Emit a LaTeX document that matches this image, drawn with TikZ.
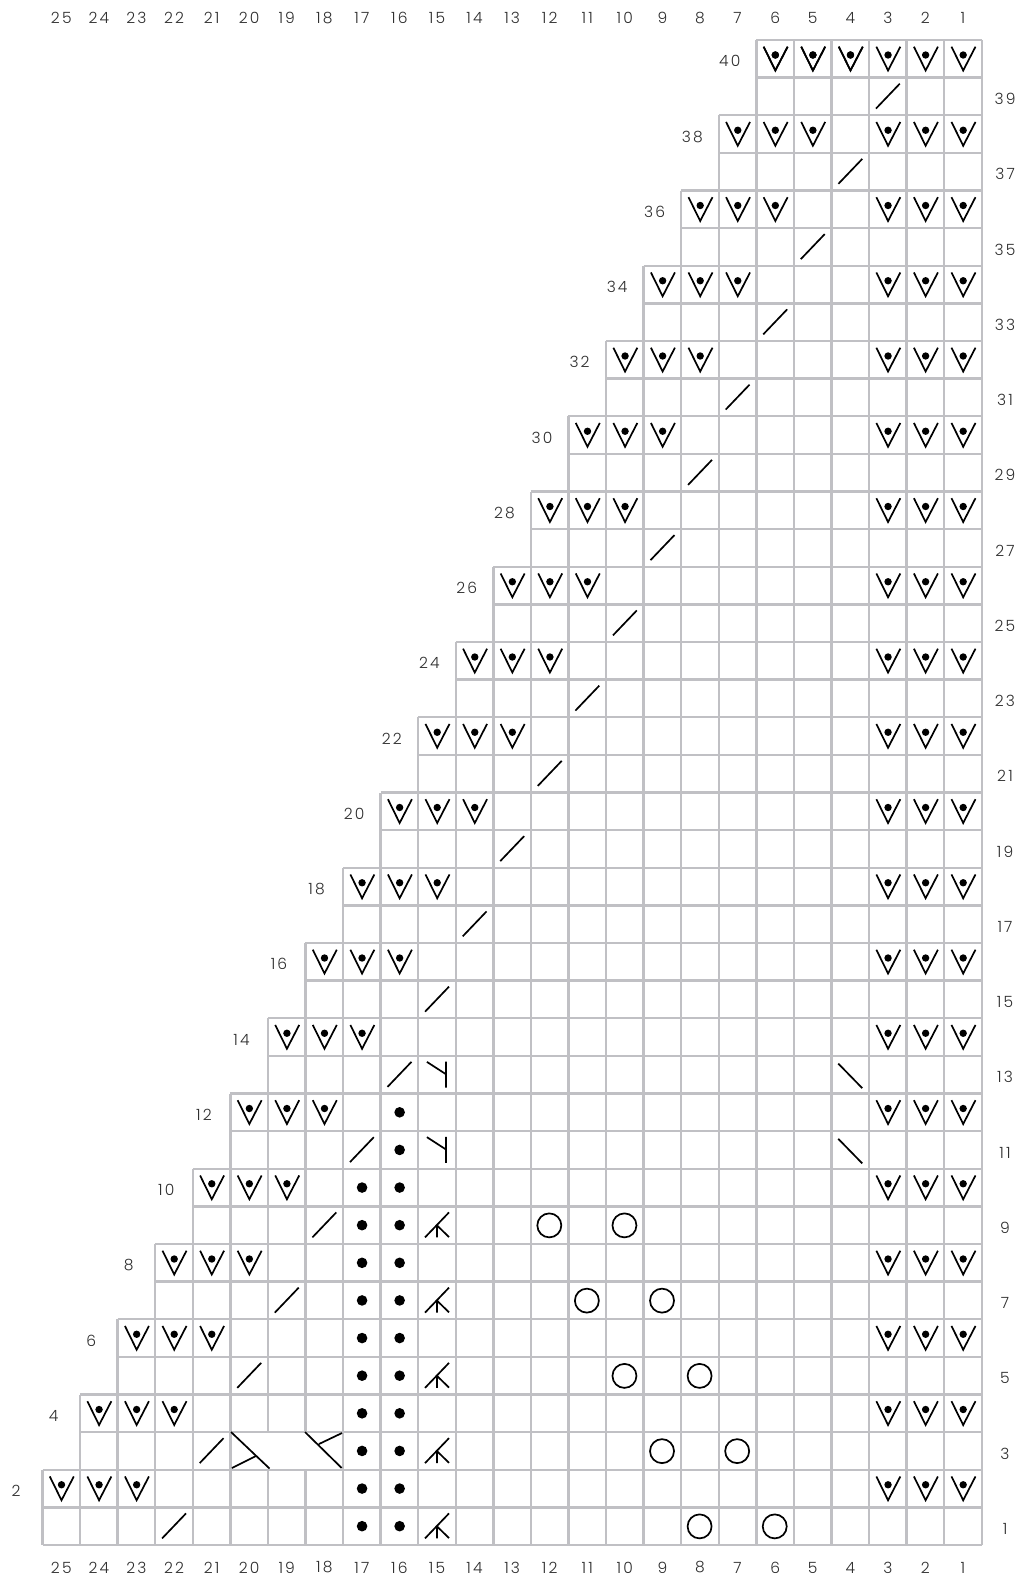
\documentclass[tikz,border=0pt]{standalone}
\usepackage{fontspec}
\newfontfamily\lab[LetterSpace=14,UprightFont={* Light}]{Poppins}
\definecolor{gridc}{HTML}{C0C0C4}
\tikzset{
  gridline/.style={draw=gridc,line width=2.4pt,line cap=square},
  ink/.style={draw=black,line width=1.7pt,line join=miter},
  inkdot/.style={fill=black,draw=none},
  numlab/.style={font=\lab\fontsize{15.5}{17}\selectfont,text=black!82,inner sep=0pt}
}
\newcommand{\cw}{37.57}
\newcommand{\rh}{37.625}
% cell origin: \cx,\cy from col #1, row #2 (top-left)
\newcommand{\cellat}[2]{\pgfmathsetmacro{\cx}{42.5+(25-#1)*\cw}\pgfmathsetmacro{\cy}{40+(40-#2)*\rh}}
\newcommand{\symV}[2]{\cellat{#1}{#2}\begin{scope}[shift={(\cx,\cy)}]
  \draw[ink] (7.3,6.7) -- (19,30.5) -- (31.3,6.7);
  \fill[inkdot] (19,15) circle (3.7);\end{scope}}
\newcommand{\symS}[2]{\cellat{#1}{#2}\begin{scope}[shift={(\cx,\cy)}]
  \draw[ink] (6.9,31) -- (30.8,6);\end{scope}}
\newcommand{\symB}[2]{\cellat{#1}{#2}\begin{scope}[shift={(\cx,\cy)}]
  \draw[ink] (6.8,7.7) -- (30.8,32.3);\end{scope}}
\newcommand{\symD}[2]{\cellat{#1}{#2}\begin{scope}[shift={(\cx,\cy)}]
  \fill[inkdot] (19,18.8) circle (5.3);\end{scope}}
\newcommand{\symO}[2]{\cellat{#1}{#2}\begin{scope}[shift={(\cx,\cy)}]
  \draw[ink] (18.4,19) circle (12);\end{scope}}
\newcommand{\symY}[2]{\cellat{#1}{#2}\begin{scope}[shift={(\cx,\cy)}]
  \draw[ink] (27.7,5.7) -- (27.7,31.7) (8.7,6) -- (27.7,18.3);\end{scope}}
\newcommand{\symF}[2]{\cellat{#1}{#2}\begin{scope}[shift={(\cx,\cy)}]
  \draw[ink] (6.8,31) -- (30.8,6) (18.8,19) -- (18.8,31) (18.8,19) -- (30.8,30.7);\end{scope}}
\begin{document}
\begin{tikzpicture}[x=1pt,y=-1pt]
\useasboundingbox (0,0) rectangle (1019,1576);
\fill[white] (0,0) rectangle (1019,1576);
% grid: each pair of rows reaches one column further left going down
\foreach \m in {1,...,20}{
  \pgfmathtruncatemacro{\k}{26-\m}
  \foreach \r in {2*\m-1,2*\m}{
    \pgfmathtruncatemacro{\rr}{\r}
    \foreach \c in {1,...,\k}{
      \cellat{\c}{\rr}
      \pgfmathtruncatemacro{\skipl}{(\rr==3 && (\c==19 || \c==18)) ? 1 : 0}
      \draw[gridline] (\cx,\cy) -- ++(\cw,0) (\cx,\cy+\rh) -- ++(\cw,0) (\cx+\cw,\cy) -- ++(0,\rh);
      \ifnum\skipl=0 \draw[gridline] (\cx,\cy) -- ++(0,\rh);\fi
    }
  }
}
\fill[white] (42.5+5*\cw+1.2,40+37*\rh+1.2) rectangle (42.5+8*\cw-1.2,40+38*\rh-1.2);
% V with dot, even rows
\foreach \m in {1,...,20}{
  \pgfmathtruncatemacro{\k}{26-\m}
  \pgfmathtruncatemacro{\kb}{\k-1}
  \pgfmathtruncatemacro{\kc}{\k-2}
  \pgfmathtruncatemacro{\rr}{2*\m}
  \foreach \c in {1,2,3,\k,\kb,\kc}{\symV{\c}{\rr}}
}
\foreach \c in {4,5,6}{\symV{\c}{40}}
% slashes
\foreach \j in {0,...,19}{
  \pgfmathtruncatemacro{\rr}{39-2*\j}
  \pgfmathtruncatemacro{\c}{3+\j}
  \symS{\c}{\rr}
}
\symB{4}{13}\symB{4}{11}
\symY{15}{13}\symY{15}{11}
\foreach \r in {1,...,12}{\symD{16}{\r}}
\foreach \r in {1,...,10}{\symD{17}{\r}}
\foreach \r in {1,3,5,7,9}{\symF{15}{\r}}
\symO{12}{9}\symO{10}{9}\symO{11}{7}\symO{9}{7}\symO{10}{5}\symO{8}{5}\symO{9}{3}\symO{7}{3}\symO{8}{1}\symO{6}{1}
% wide decreases in row 3
\draw[ink] (231,1432) -- (269.5,1468.5) (232,1468) -- (256,1456);
\draw[ink] (305,1432) -- (341.7,1468) (319,1444) -- (342,1433);
% column numbers
\foreach \c in {1,...,25}{
  \pgfmathsetmacro{\lx}{42.5+(25-\c+0.5)*\cw}
  \node[numlab] (top\c) at (\lx,18) {\c};
  \node[numlab] (bot\c) at (\lx,1567.5) {\c};
}
% row numbers
\foreach \m in {1,...,20}{
  \pgfmathtruncatemacro{\rr}{2*\m}
  \pgfmathtruncatemacro{\ro}{2*\m-1}
  \pgfmathsetmacro{\ly}{40+(40-\rr+0.5)*\rh+2.5}
  \pgfmathsetmacro{\ley}{40+(40-\ro+0.5)*\rh+2.5}
  \pgfmathsetmacro{\llx}{42.5+(\m-1)*\cw-26.5}
  \node[numlab] (even\rr) at (\llx,\ly) {\rr};
  \node[numlab] (odd\ro) at (1005,\ley) {\ro};
}
\end{tikzpicture}
\end{document}
